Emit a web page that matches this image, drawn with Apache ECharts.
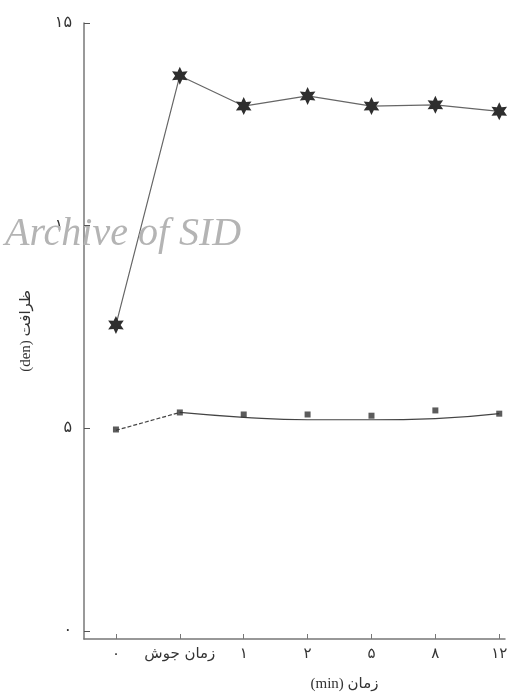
<!DOCTYPE html>
<html>
<head>
<meta charset="utf-8">
<script src="https://cdn.jsdelivr.net/npm/echarts@6/dist/echarts.min.js"></script>
<style>
  html, body { margin: 0; padding: 0; background: #fff; }
  #chart { width: 512px; height: 698px; }
</style>
</head>
<body>
<div id="chart"></div>
<script>
// categories along the time axis (index 0..6)
const categories = ['۰', 'زمان جوش', '۱', '۲', '۵', '۸', '۱۲']
const yTicks = [0, 5, 10, 15]
const yTickLabels = { 0: '۰', 5: '۵', 10: '۱۰', 15: '۱۵' }

// star series (upper)
const starValues = [7.55, 13.7, 12.95, 13.2, 12.95, 12.98, 12.82]
// square markers (lower)
const squareValues = [4.97, 5.39, 5.34, 5.34, 5.31, 5.44, 5.36]
// hand-drawn curve through the squares
const squareCurve = [4.95, 5.39, 5.27, 5.21, 5.21, 5.24, 5.36]

// six-armed star marker
const starPath = 'path://M10 0 L12.6 5.5 L18.66 5 L15.2 10 L18.66 15 L12.6 14.5 L10 20 L7.4 14.5 L1.34 15 L4.8 10 L1.34 5 L7.4 5.5 Z'

const toPairs = arr => arr.map((v, i) => [i, v])

const chart = echarts.init(document.getElementById('chart'))

const option = {
  animation: false,
  grid: { left: 84, right: 7, top: 23, bottom: 59 },
  xAxis: {
    type: 'value',
    min: -0.5,
    max: 6.09,
    name: '(min) زمان',
    nameLocation: 'middle',
    nameGap: 38,
    nameTextStyle: { color: '#333', fontSize: 15, fontFamily: 'Liberation Serif, DejaVu Sans, serif', padding: [0, 0, 0, 100] },
    axisLine: { onZero: false, lineStyle: { color: '#777', width: 1.5 } },
    axisTick: { inside: true, length: 5, customValues: categories.map((_, i) => i), lineStyle: { color: '#777' } },
    axisLabel: {
      customValues: categories.map((_, i) => i),
      formatter: v => categories[Math.round(v)],
      color: '#333',
      fontSize: 15,
      margin: 8,
      fontFamily: 'DejaVu Sans, sans-serif'
    },
    splitLine: { show: false }
  },
  yAxis: {
    type: 'value',
    min: -0.2,
    max: 15,
    name: '(den) ظرافت',
    nameLocation: 'middle',
    nameGap: 50,
    nameRotate: 90,
    nameTextStyle: { color: '#333', fontSize: 15, fontFamily: 'Liberation Serif, DejaVu Sans, serif' },
    axisLine: { show: true, onZero: false, lineStyle: { color: '#777', width: 1.5 } },
    axisTick: { show: true, inside: true, length: 6, customValues: yTicks, lineStyle: { color: '#555' } },
    axisLabel: {
      customValues: yTicks,
      formatter: v => yTickLabels[v],
      color: '#333',
      fontSize: 16,
      margin: 12,
      fontFamily: 'DejaVu Sans, sans-serif'
    },
    splitLine: { show: false }
  },
  graphic: [
    {
      type: 'text',
      left: 5,
      top: 214,
      silent: true,
      z: 100,
      style: {
        text: 'Archive of SID',
        fill: '#b4b4b4',
        fontSize: 40,
        fontStyle: 'italic',
        fontFamily: 'Liberation Serif'
      }
    }
  ],
  series: [
    {
      name: 'stars',
      type: 'line',
      data: toPairs(starValues),
      symbol: starPath,
      symbolSize: 18,
      symbolKeepAspect: true,
      itemStyle: { color: '#2e2e2e' },
      lineStyle: { color: '#666', width: 1.2 }
    },
    {
      name: 'curve-start',
      type: 'line',
      data: toPairs(squareCurve.slice(0, 2)),
      symbol: 'none',
      lineStyle: { color: '#444', width: 1.2, type: [4, 2] }
    },
    {
      name: 'curve',
      type: 'line',
      data: toPairs(squareCurve).slice(1),
      smooth: 0.5,
      symbol: 'none',
      lineStyle: { color: '#444', width: 1.2 }
    },
    {
      name: 'squares',
      type: 'scatter',
      data: toPairs(squareValues),
      symbol: 'rect',
      symbolSize: 6,
      itemStyle: { color: '#333' },
      z: 5
    }
  ]
}

chart.setOption(option)
</script>
</body>
</html>
